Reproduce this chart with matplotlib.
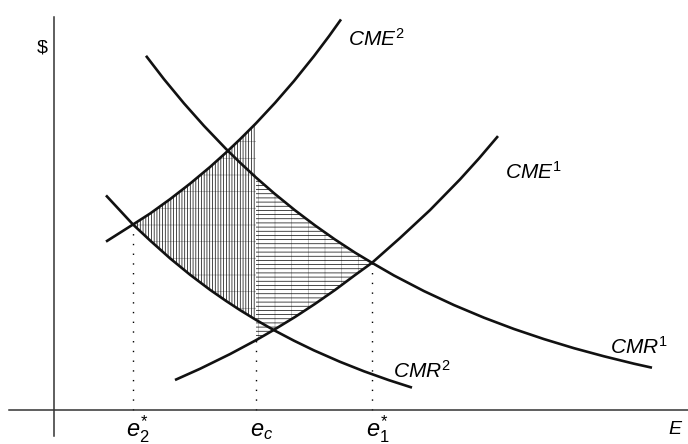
import numpy as np
import matplotlib
matplotlib.use("Agg")
import matplotlib.pyplot as plt

plt.rcParams['font.family'] = ['Liberation Sans', 'DejaVu Sans']
plt.rcParams['mathtext.fontset'] = 'custom'
plt.rcParams['mathtext.rm'] = 'Liberation Sans'
plt.rcParams['mathtext.it'] = 'Liberation Sans:italic'
plt.rcParams['hatch.linewidth'] = 0.5

# curves (E on the horizontal axis, $ on the vertical)
cme2_E = [5.2, 7.9, 9.6, 11.6, 13.6, 15.6, 17.2, 18.6, 20.2, 22.1, 24.0, 26.0, 27.5, 28.7]
cme2_y = [16.84, 18.55, 19.64, 21.08, 22.63, 24.30, 25.74, 27.07, 28.67, 30.71, 32.90,
          35.39, 37.38, 39.06]

cmr2_E = [5.2, 7.9, 9.6, 11.6, 13.6, 15.6, 17.2, 18.6, 20.2, 22.0, 24.0, 26.0, 28.6,
          31.0, 33.5, 35.8]
cmr2_y = [21.46, 18.55, 16.96, 15.17, 13.53, 12.02, 10.91, 9.99, 9.01, 7.98, 6.93, 5.96,
          4.82, 3.87, 2.98, 2.24]

cmr1_E = [9.2, 11.0, 13.0, 15.0, 17.2, 18.6, 20.2, 22.0, 24.1, 26.1, 28.1, 30.1, 31.8,
          34.0, 37.0, 40.0, 43.0, 46.0, 49.0, 52.0, 55.0, 58.0, 59.8]
cmr1_y = [35.42, 33.08, 30.66, 28.41, 26.11, 24.74, 23.25, 21.68, 19.97, 18.46, 17.05,
          15.74, 14.72, 13.45, 11.89, 10.49, 9.23, 8.10, 7.09, 6.18, 5.37, 4.63, 4.23]

cme1_E = [12.1, 14.6, 17.6, 20.2, 22.0, 24.1, 26.1, 28.1, 30.1, 31.8, 34.6, 37.6, 40.6,
          42.5, 44.4]
cme1_y = [3.00, 4.12, 5.59, 6.98, 8.02, 9.30, 10.61, 12.00, 13.49, 14.72, 17.20, 19.99,
          23.06, 25.16, 27.39]

# equilibrium points on the E axis and the heights the dotted lines reach
e_marks = [7.9, 20.2, 31.8]
e_heights = [18.55, 7.7, 14.72]
e_labels = [r'$\mathit{e}_{\mathrm{2}}^{*}$', r'$\mathit{e}_{\mathit{c}}$', r'$\mathit{e}_{\mathrm{1}}^{*}$']

curve_labels = [r'$\mathit{CME}^{\mathrm{2}}$', r'$\mathit{CME}^{\mathrm{1}}$',
                r'$\mathit{CMR}^{\mathrm{1}}$', r'$\mathit{CMR}^{\mathrm{2}}$']
label_pos = [(29.4, 37.1), (45.1, 23.8), (55.6, 6.3), (33.9, 3.9)]


def between(xs, ys, lo, hi):
    xs, ys = np.array(xs), np.array(ys)
    m = (xs >= lo - 1e-9) & (xs <= hi + 1e-9)
    return xs[m], ys[m]


fig = plt.figure(figsize=(6.88, 4.44), dpi=100)
ax = fig.add_axes([0, 0, 1, 1])
ax.set_xlim(-5.4, 63.4)
ax.set_ylim(-3.4, 41.0)

# shaded areas: vertical hatching left of e_c, horizontal right of it
xl, top_l = between(cme2_E, cme2_y, e_marks[0], e_marks[1])
_, bot_l = between(cmr2_E, cmr2_y, e_marks[0], e_marks[1])
ax.fill_between(xl, bot_l, top_l, facecolor='none', edgecolor='0.65',
                linewidth=0, hatch='-', zorder=1)
ax.fill_between(xl, bot_l, top_l, facecolor='none', edgecolor='black',
                linewidth=0, hatch='||||||', zorder=1)

xr, top_r = between(cmr1_E, cmr1_y, e_marks[1], e_marks[2])
_, bot_r = between(cme1_E, cme1_y, e_marks[1], e_marks[2])
ax.fill_between(xr, bot_r, top_r, facecolor='none', edgecolor='0.65',
                linewidth=0, hatch='|', zorder=1)
ax.fill_between(xr, bot_r, top_r, facecolor='none', edgecolor='black',
                linewidth=0, hatch='----', zorder=1)

# curves
for xs, ys in [(cme2_E, cme2_y), (cmr2_E, cmr2_y), (cmr1_E, cmr1_y), (cme1_E, cme1_y)]:
    ax.plot(xs, ys, color='#111111', lw=1.9, solid_capstyle='butt',
            solid_joinstyle='round', zorder=3)

for lab, (lx, ly) in zip(curve_labels, label_pos):
    ax.text(lx, ly, lab, fontsize=15, ha='left', va='center')

# dotted drop lines and e labels
for ex, eh, lab in zip(e_marks, e_heights, e_labels):
    ax.plot([ex, ex], [0, eh], color='black', lw=1.0, ls=(0, (1, 6)), zorder=2)
    ax.text(ex - 0.65, -2.6, lab, fontsize=17, ha='left', va='baseline')

# axes
for s in ['top', 'right']:
    ax.spines[s].set_visible(False)
ax.spines['left'].set_position(('data', 0))
ax.spines['bottom'].set_position(('data', 0))
ax.spines['left'].set_bounds(-2.6, 39.3)
ax.spines['bottom'].set_bounds(-4.5, 63.4)
for s in ['left', 'bottom']:
    ax.spines[s].set_linewidth(1.1)
    ax.spines[s].set_color('#333333')
ax.set_xticks([])
ax.set_yticks([])
ax.patch.set_visible(False)

ax.text(-1.2, 36.2, '$', fontsize=14, ha='center', va='center')
ax.text(62.1, -2.4, 'E', fontsize=14, style='italic', ha='center', va='baseline')

fig.savefig('out.png', dpi=100)
